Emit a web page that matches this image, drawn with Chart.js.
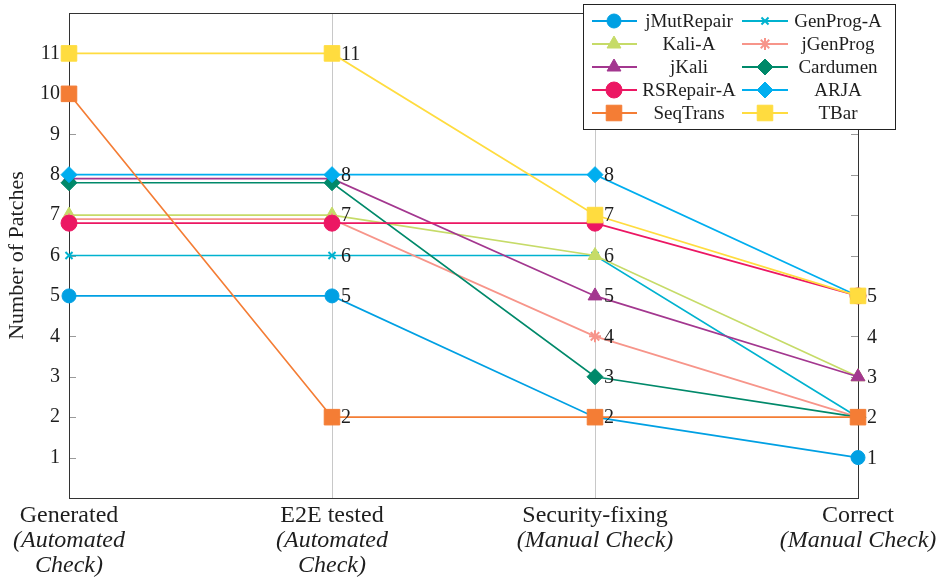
<!DOCTYPE html>
<html>
<head>
<meta charset="utf-8">
<script src="https://cdn.jsdelivr.net/npm/chart.js@4/dist/chart.umd.min.js"></script>
<style>
  html, body { margin: 0; padding: 0; background: #fff; }
  #wrap { width: 939px; height: 581px; position: relative; }
</style>
</head>
<body>
<div id="wrap"><canvas id="main-chart"></canvas></div>
<script>
const categories = ['Generated', 'E2E tested', 'Security-fixing', 'Correct'];
const categoryNotes = [['(Automated', 'Check)'], ['(Automated', 'Check)'], ['(Manual Check)'], ['(Manual Check)']];

const seriesNames = ['jMutRepair', 'GenProg-A', 'Kali-A', 'jGenProg', 'jKali', 'Cardumen', 'RSRepair-A', 'ARJA', 'SeqTrans', 'TBar'];
const jMutRepair = [5, 5, 2, 1];
const genProgA   = [6, 6, 6, 2];
const kaliA      = [7, 7, 6, 3];
const jGenProg   = [6.9, 6.9, 4, 2];
const jKali      = [7.9, 7.9, 5, 3];
const cardumen   = [7.8, 7.8, 3, 2];
const rsRepairA  = [6.8, 6.8, 6.8, 5];
const arja       = [8, 8, 8, 5];
const seqTrans   = [10, 2, 2, 2];
const tBar       = [11, 11, 7, 5];

// numbers printed next to each stage
const stageLabels = [[], [11, 8, 7, 6, 5, 2], [8, 7, 6, 5, 4, 3, 2], [5, 4, 3, 2, 1]];
const yTicks = [1, 2, 3, 4, 5, 6, 7, 8, 9, 10, 11];

const values = [jMutRepair, genProgA, kaliA, jGenProg, jKali, cardumen, rsRepairA, arja, seqTrans, tBar];
const COLORS = ['#00A0E3', '#00B2CF', '#C6DB68', '#F7958A', '#A3378F', '#00896A', '#EC1763', '#00AEEF', '#F47D35', '#FFDC3F'];
const STYLES = [
  { s: 'circle',   r: 7,  w: 1 },
  { s: 'crossRot', r: 5,  w: 2 },
  { s: 'triangle', r: 8,  w: 1 },
  { s: 'star',     r: 6,  w: 2 },
  { s: 'triangle', r: 8,  w: 1 },
  { s: 'rectRot',  r: 8,  w: 1 },
  { s: 'circle',   r: 8,  w: 1 },
  { s: 'rectRot',  r: 8,  w: 1 },
  { s: 'rect',     r: 11, w: 1 },
  { s: 'rect',     r: 11, w: 1 },
];

const SERIF = '"Liberation Serif", "DejaVu Serif", serif';
const INK = '#1e1e1e';

function marker(ctx, i, x, y) {
  const st = STYLES[i];
  ctx.fillStyle = COLORS[i];
  ctx.strokeStyle = COLORS[i];
  ctx.lineWidth = st.w;
  Chart.helpers.drawPoint(ctx, { pointStyle: st.s, radius: st.r, rotation: 0, borderWidth: st.w }, x, y);
}

const decor = {
  id: 'decor',
  beforeDatasetsDraw(chart) {
    const { ctx, chartArea: a, scales: { y } } = chart;
    ctx.save();
    ctx.strokeStyle = '#9a9a9a';
    ctx.lineWidth = 1;
    yTicks.forEach(v => {
      const py = Math.round(y.getPixelForValue(v)) + 0.5;
      ctx.beginPath();
      ctx.moveTo(a.left, py); ctx.lineTo(a.left + 7, py);
      ctx.moveTo(a.right - 7, py); ctx.lineTo(a.right, py);
      ctx.stroke();
    });
    ctx.strokeStyle = '#333';
    ctx.strokeRect(Math.round(a.left) + 0.5, Math.round(a.top) + 0.5, Math.round(a.right - a.left), Math.round(a.bottom - a.top));
    ctx.restore();
  },
  afterDatasetsDraw(chart) {
    const { ctx, scales: { x, y } } = chart;
    ctx.save();
    ctx.fillStyle = INK;
    ctx.font = `20px ${SERIF}`;
    ctx.textAlign = 'left';
    ctx.textBaseline = 'middle';
    stageLabels.forEach((list, i) => {
      list.forEach(v => ctx.fillText(String(v), x.getPixelForValue(i) + 9, y.getPixelForValue(v) + 1));
    });
    ctx.restore();
  },
  afterDraw(chart) {
    const { ctx, scales: { x } } = chart;
    ctx.save();
    // stage names under the axis
    ctx.fillStyle = INK;
    ctx.textAlign = 'center';
    ctx.textBaseline = 'middle';
    categories.forEach((c, i) => {
      const px = x.getPixelForValue(i);
      ctx.font = `24px ${SERIF}`;
      ctx.fillText(c, px, 516);
      ctx.font = `italic 24px ${SERIF}`;
      categoryNotes[i].forEach((t, k) => ctx.fillText(t, px, 541 + k * 25));
    });

    // legend, two columns
    ctx.fillStyle = '#fff';
    ctx.fillRect(583, 4, 312, 125);
    ctx.strokeStyle = '#222';
    ctx.lineWidth = 1;
    ctx.strokeRect(583.5, 4.5, 312, 125);
    const cols = [
      { ids: [0, 2, 4, 6, 8], x0: 592, x1: 637, mx: 614, tx: 689 },
      { ids: [1, 3, 5, 7, 9], x0: 742, x1: 788, mx: 765, tx: 838 },
    ];
    ctx.font = `19px ${SERIF}`;
    cols.forEach(col => {
      col.ids.forEach((id, r) => {
        const py = 21 + r * 23;
        ctx.strokeStyle = COLORS[id];
        ctx.lineWidth = 1.8;
        ctx.beginPath(); ctx.moveTo(col.x0, py); ctx.lineTo(col.x1, py); ctx.stroke();
        marker(ctx, id, col.mx, py);
        ctx.fillStyle = INK;
        ctx.fillText(seriesNames[id], col.tx, py + 1);
      });
    });
    ctx.restore();
  }
};

new Chart(document.getElementById('main-chart'), {
  type: 'line',
  data: {
    labels: categories,
    datasets: seriesNames.map((name, i) => ({
      label: name,
      data: values[i],
      borderColor: COLORS[i],
      backgroundColor: COLORS[i],
      pointBackgroundColor: COLORS[i],
      pointBorderColor: COLORS[i],
      pointStyle: STYLES[i].s,
      pointRadius: STYLES[i].r,
      pointBorderWidth: STYLES[i].w,
      borderWidth: 1.7,
      tension: 0,
      clip: false,
      order: seriesNames.length - i,
    }))
  },
  options: {
    responsive: true, maintainAspectRatio: false,
    animation: false,
    layout: { padding: { top: 13, right: 81, left: 0, bottom: 0 } },
    plugins: { legend: { display: false }, tooltip: { enabled: false } },
    scales: {
      x: {
        type: 'category',
        offset: false,
        grid: {
          offset: false, drawTicks: false,
          color: c => (c.index === 1 || c.index === 2) ? '#c8c8c8' : 'rgba(0,0,0,0)'
        },
        border: { display: false },
        ticks: { display: false },
        afterFit: s => { s.height = 83; s.paddingLeft = 0; s.paddingRight = 0; }
      },
      y: {
        min: 0, max: 12,
        grid: { display: false, drawTicks: false },
        border: { display: false },
        title: { display: true, text: 'Number of Patches', color: INK, font: { family: SERIF, size: 22 }, padding: { top: 4, bottom: 0 } },
        ticks: {
          stepSize: 1, autoSkip: false, padding: 9, color: INK,
          font: { family: SERIF, size: 20 },
          callback: v => (v > 0 && v < 12) ? String(v) : ''
        },
        afterFit: s => { s.width = 69; s.paddingTop = 0; s.paddingBottom = 0; }
      }
    }
  },
  plugins: [decor]
});
</script>
</body>
</html>
